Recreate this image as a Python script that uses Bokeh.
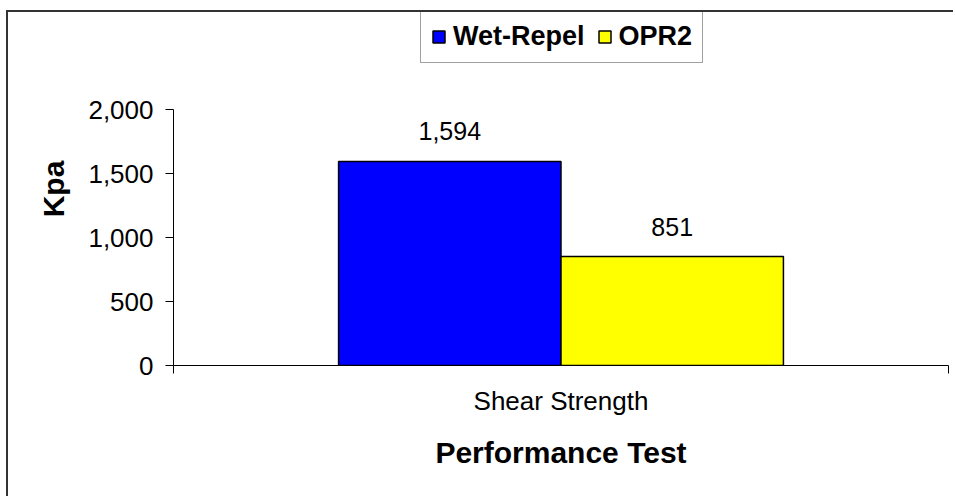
from bokeh.plotting import figure
from bokeh.models import (ColumnDataSource, Range1d, FixedTicker, NumeralTickFormatter,
                          Legend, LegendItem)
from bokeh.embed import file_html
from bokeh.resources import INLINE
from bokeh.core.properties import value

# ---- data ----
categories = ["Shear Strength"]
series = ["Wet-Repel", "OPR2"]
wet_repel = [1594]
opr2 = [851]
y_ticks = [0, 500, 1000, 1500, 2000]
y_max = 2000
colors = ["#0000FF", "#FFFF00"]

FONT = "Liberation Sans"
bar_w = 0.287

# frame geometry (pixels)
frame_h = 353          # frame spans from canvas top down to the zero line
axis_h = 256           # pixels used by 0..y_max
y_end = y_max * frame_h / axis_h   # room above the axis for the legend

p = figure(width=947, height=486, output_backend="svg", toolbar_location=None,
           x_range=Range1d(0, len(categories)), y_range=Range1d(0, y_end),
           min_border_left=165, min_border_right=7, min_border_top=0, min_border_bottom=133)
p.styles = {"margin-left": "6px", "margin-top": "10px",
            "border-left": "2px solid #333333", "border-top": "2px solid #333333"}
p.outline_line_color = None
p.xgrid.grid_line_color = None
p.ygrid.grid_line_color = None
p.background_fill_color = "white"
p.border_fill_color = "white"

centers = [i + 0.5 for i in range(len(categories))]
renderers = []
for k, (name, vals) in enumerate(zip(series, [wet_repel, opr2])):
    xs = [c + (k - 0.5) * bar_w for c in centers]
    src = ColumnDataSource(dict(x=xs, top=vals, lab=[f"{v:,}" for v in vals]))
    r = p.vbar(x="x", top="top", bottom=0, width=bar_w, source=src,
               fill_color=colors[k], line_color="black", line_width=1.5)
    renderers.append(r)
    p.text(x="x", y="top", text="lab", source=src, text_align="center",
           text_baseline="alphabetic", y_offset=-30,
           text_font=value(FONT), text_font_size="25px", text_color="black")

# axes
xa = p.xaxis[0]
xa.ticker = FixedTicker(ticks=centers, minor_ticks=list(range(len(categories) + 1)))
xa.major_label_overrides = {c: cat for c, cat in zip(centers, categories)}
xa.major_tick_line_color = None
xa.major_tick_out = 8
xa.minor_tick_in = 0
xa.minor_tick_out = 8
xa.minor_tick_line_color = "black"
xa.axis_line_color = "black"
xa.major_label_text_font = FONT
xa.major_label_text_font_size = "26px"
xa.major_label_text_color = "black"
xa.major_label_standoff = 12
xa.axis_label = "Performance Test"
xa.axis_label_text_font = FONT
xa.axis_label_text_font_size = "30px"
xa.axis_label_text_font_style = "bold"
xa.axis_label_text_color = "black"
xa.axis_label_standoff = 17

ya = p.yaxis[0]
ya.ticker = FixedTicker(ticks=y_ticks, minor_ticks=[])
ya.bounds = (0, y_max)
ya.formatter = NumeralTickFormatter(format="0,0")
ya.major_tick_in = 0
ya.major_tick_out = 8
ya.major_tick_line_color = "black"
ya.axis_line_color = "black"
ya.major_label_text_font = FONT
ya.major_label_text_font_size = "26px"
ya.major_label_text_color = "black"
ya.major_label_standoff = 12
ya.axis_label = "Kpa"
ya.axis_label_text_font = FONT
ya.axis_label_text_font_size = "30px"
ya.axis_label_text_font_style = "bold"
ya.axis_label_text_color = "black"
ya.axis_label_standoff = 15

legend = Legend(items=[LegendItem(label=s, renderers=[r]) for s, r in zip(series, renderers)],
                orientation="horizontal", location=(247, 302),
                label_text_font=FONT, label_text_font_size="27px", label_text_font_style="bold",
                label_text_color="black", glyph_width=15, glyph_height=15, label_height=27,
                label_standoff=7, spacing=12, padding=10, margin=0,
                border_line_color="#444444", border_line_width=1,
                background_fill_color="white", background_fill_alpha=1)
p.add_layout(legend, "center")

open("out.html", "w").write(file_html(p, INLINE))
